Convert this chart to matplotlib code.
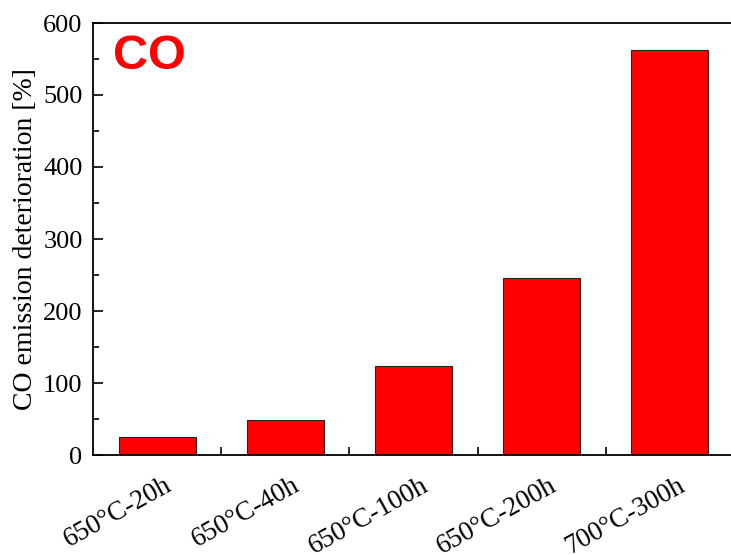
import numpy as np
import matplotlib.pyplot as plt
import matplotlib.transforms as mtransforms

# donnees
conditions = ['650°C-20h', '650°C-40h', '650°C-100h', '650°C-200h', '700°C-300h']
deterioration = [24.5, 49, 123.5, 245.5, 562.5]
yticks = [0, 100, 200, 300, 400, 500, 600]

plt.rcParams['font.family'] = ['Liberation Serif', 'DejaVu Serif']

fig = plt.figure(figsize=(7.31, 5.55), dpi=100)
# l'axe depasse a droite (image rognee)
ax = fig.add_axes([93/731, 100/555, 641/731, 432/555])

x = np.arange(len(conditions))
ax.bar(x, deterioration, width=0.6, color='#ff0000', edgecolor='#222222', linewidth=0.8)

ax.set_xlim(-0.5, len(conditions) - 0.5)
ax.set_ylim(0, 600)
ax.set_yticks(yticks)
ax.set_yticks(np.arange(50, 600, 100), minor=True)
ax.set_xticks(x)
ax.set_xticklabels(conditions, rotation=29, ha='right', rotation_mode='anchor', fontsize=19.5)
ax.set_xticks(x[:-1] + 0.5, minor=True)
ax.tick_params(axis='x', which='major', length=0, pad=13)
ax.tick_params(axis='x', which='minor', direction='in', length=6, width=1.2)
ax.tick_params(axis='y', which='major', direction='in', length=7, width=1.2, labelsize=19, pad=7.5)
ax.tick_params(axis='y', which='minor', direction='in', length=4, width=1.2)
for s in ax.spines.values():
    s.set_linewidth(1.3)

# decalage des etiquettes vers la droite
decal = mtransforms.ScaledTranslation(7/100, 0, fig.dpi_scale_trans)
for lab in ax.get_xticklabels():
    lab.set_transform(lab.get_transform() + decal)

ax.set_ylabel('CO emission deterioration [%]', fontsize=20, labelpad=4)
ax.text(0.031, 0.975, 'CO', transform=ax.transAxes, color='#ff0000', fontsize=35,
        fontweight='bold', family='Liberation Sans', va='top', ha='left')

fig.savefig('out.png', dpi=100)
